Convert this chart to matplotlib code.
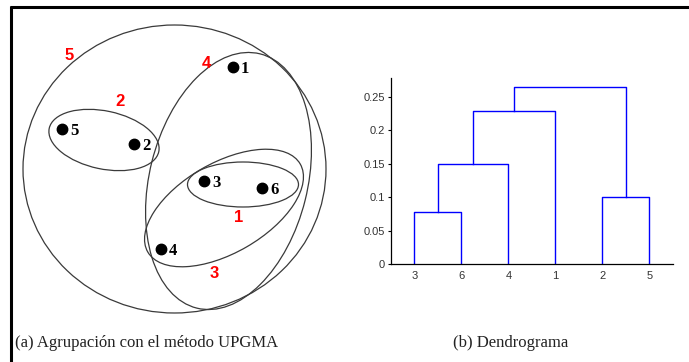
import matplotlib
matplotlib.use("Agg")
import matplotlib.pyplot as plt
from matplotlib.patches import Ellipse

# puntos del esquema (coordenadas en pixeles, y hacia abajo)
point_names = ['1', '5', '2', '3', '6', '4']
point_x = [233, 62, 134, 204, 262, 161]
point_y = [67, 129, 144, 181, 188, 249]

# numero de paso de cada agrupacion (etiquetas rojas)
step_labels = ['5', '4', '2', '1', '3']
step_x = [69, 206, 120, 239, 214]
step_y = [55, 64, 102, 218, 273]

# dendrograma
leaf_order = ['3', '6', '4', '1', '2', '5']
merge_pairs = [('3', '6'), ('36', '4'), ('364', '1'), ('2', '5'), ('3641', '25')]
merge_heights = [0.077, 0.149, 0.229, 0.100, 0.264]
yticks = [0, 0.05, 0.1, 0.15, 0.2, 0.25]
yticklabels = ['0', '0.05', '0.1', '0.15', '0.2', '0.25']

W, H = 689, 362
fig = plt.figure(figsize=(W / 100, H / 100), dpi=100)
fig.patch.set_facecolor('white')

# --- panel (a): todo en pixeles ---
ax = fig.add_axes([0, 0, 1, 1])
ax.set_xlim(0, W)
ax.set_ylim(H, 0)
ax.axis('off')

# marco superior e izquierdo
ax.plot([10, W], [6.5, 6.5], color='black', lw=2.2, solid_capstyle='butt')
ax.plot([10.5, 10.5], [6, H], color='black', lw=2.2, solid_capstyle='butt')

# elipses: centro, ancho, alto, angulo (y invertida -> angulo con signo cambiado)
ellipses = [
    ((174.5, 169), 303, 288, 0),
    ((228.5, 181), 262, 158, -76),
    ((224, 208), 176, 90, -30),
    ((243, 184.5), 111, 45, 0),
    ((104, 140), 112, 58, 12),
]
for c, w, h, a in ellipses:
    ax.add_patch(Ellipse(c, w, h, angle=a, fill=False, ec='#3a3a3a', lw=0.9))

ax.plot(point_x, point_y, 'o', color='black', ms=7.5)
for name, x, y in zip(point_names, point_x, point_y):
    ax.text(x + 8, y + 2, name, ha='left', va='center', fontsize=12,
            fontweight='bold', family='Liberation Serif', color='black')

for lab, x, y in zip(step_labels, step_x, step_y):
    ax.text(x, y, lab, ha='center', va='center', fontsize=12,
            fontweight='bold', family='Liberation Sans', color='#ff0000')

ax.text(15, 343, '(a) Agrupación con el método UPGMA', ha='left', va='center',
        fontsize=12, family='Liberation Serif', color='#222222')
ax.text(453, 343, '(b) Dendrograma', ha='left', va='center',
        fontsize=12, family='Liberation Serif', color='#222222')

# --- panel (b): dendrograma ---
left, right, bottom, top = 391, 673, 264, 78
dax = fig.add_axes([left / W, (H - bottom) / H, (right - left) / W, (bottom - top) / H])
pos = {name: i + 1 for i, name in enumerate(leaf_order)}
hgt = {name: 0.0 for name in leaf_order}
for (a, b), h in zip(merge_pairs, merge_heights):
    dax.plot([pos[a], pos[a], pos[b], pos[b]], [hgt[a], h, h, hgt[b]],
             color='#0000ff', lw=1.0)
    pos[a + b] = (pos[a] + pos[b]) / 2
    hgt[a + b] = h

dax.set_xlim(0.5, 6.5)
dax.set_ylim(0, 0.278)
dax.set_xticks(range(1, len(leaf_order) + 1))
dax.set_xticklabels(leaf_order)
dax.set_yticks(yticks)
dax.set_yticklabels(yticklabels)
dax.tick_params(axis='x', length=0, pad=5)
dax.tick_params(axis='y', length=2.5, width=0.8, direction='out', pad=2)
for lab in dax.get_xticklabels() + dax.get_yticklabels():
    lab.set_family('Liberation Sans')
    lab.set_fontsize(8)
    lab.set_color('#333333')
dax.spines['top'].set_visible(False)
dax.spines['right'].set_visible(False)
dax.spines['left'].set_linewidth(0.9)
dax.spines['bottom'].set_linewidth(0.9)
dax.patch.set_alpha(0)

fig.savefig('out.png', dpi=100, facecolor='white')
